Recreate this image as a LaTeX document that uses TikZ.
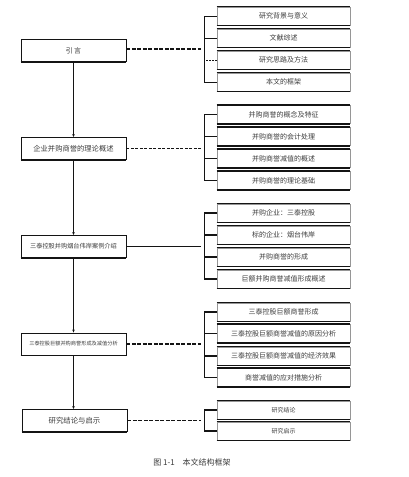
\documentclass[tikz,border=0pt]{standalone}
\usepackage{fontspec}
\newfontfamily\cjk{Noto Sans CJK SC}
\usepackage{xcolor}
\definecolor{lineblack}{RGB}{20,20,20}
\definecolor{sidegray}{RGB}{150,150,150}
\definecolor{textgray}{RGB}{60,60,60}
\usetikzlibrary{arrows.meta, positioning}

\tikzset{
  mainbox/.style={draw=lineblack, line width=0.9pt, minimum width=105pt, minimum height=22pt,
                  inner sep=1pt, text=textgray, font=\cjk\fontsize{7}{8}\selectfont},
  subbox/.style={draw=sidegray, line width=0.8pt, minimum width=133pt, minimum height=18pt,
                 inner sep=1pt, text=textgray, font=\cjk\fontsize{7}{8}\selectfont},
  thickedge/.style={lineblack, line width=1.6pt},
  link/.style={lineblack, line width=0.5pt},
  tick/.style={lineblack, line width=1.4pt},
  flow/.style={-{Stealth[length=3pt,width=2.5pt]}, lineblack, line width=0.5pt},
  heavydash/.style={lineblack, line width=1.6pt, dash pattern=on 4pt off 1.5pt},
  lightdash/.style={lineblack, line width=0.5pt, dash pattern=on 3pt off 1.5pt},
}

\begin{document}
\begin{tikzpicture}[x=1pt, y=-1pt]
  \useasboundingbox (0,0) rectangle (409,477);

  % Main chapters
  \node[mainbox] (m1) at (73.5,50.5) {引\,言};
  \node[mainbox, font=\cjk\fontsize{7.3}{8}\selectfont] (m2) at (73.5,148.5) {企业并购商誉的理论概述};
  \node[mainbox, font=\cjk\fontsize{6.2}{7}\selectfont] (m3) at (73.5,246.5) {三泰控股并购烟台伟岸案例介绍};
  \node[mainbox, font=\cjk\fontsize{5.2}{6}\selectfont] (m4) at (73.5,344) {三泰控股巨额并购商誉形成及减值分析};
  \node[mainbox, font=\cjk\fontsize{7.4}{8}\selectfont] (m5) at (74.5,420.5) {研究结论与启示};
  \foreach \n in {m1,m2,m3,m4,m5}
    \draw[thickedge] (\n.south west) -- (\n.south east);

  % Flow between chapters
  \draw[flow] (m1.south) -- (m2.north);
  \draw[flow] (m2.south) -- (m3.north);
  \draw[flow] (m3.south) -- (m4.north);
  \draw[flow] (m4.south) -- (m4.south |- m5.north);

  % --- Group 1 ---
  \node[subbox] (s11) at (283.5,16) {研究背景与意义};
  \node[subbox] (s12) at (283.5,38) {文献综述};
  \node[subbox] (s13) at (283.5,60) {研究思路及方法};
  \node[subbox] (s14) at (283.5,82) {本文的框架};
  \coordinate (k1) at (204,49);
  \coordinate (j1) at (201,49);
  \draw[heavydash] (m1.east |- j1) -- (j1);
  \draw[link] (s11.west) -- (s11.west -| k1) -- (s14.west -| k1) -- (s14.west);
  \draw[link] (s12.west) -- (s12.west -| k1);
  \draw[link, dash pattern=on 1.5pt off 1.5pt] (s13.west) -- (s13.west -| k1);

  % --- Group 2 ---
  \node[subbox] (s21) at (283.5,114.5) {并购商誉的概念及特征};
  \node[subbox] (s22) at (283.5,136.5) {并购商誉的会计处理};
  \node[subbox] (s23) at (283.5,158.5) {并购商誉减值的概述};
  \node[subbox] (s24) at (283.5,180.5) {并购商誉的理论基础};
  \coordinate (k2) at (204,148.5);
  \coordinate (j2) at (201,148.5);
  \draw[lightdash] (m2.east) -- (j2);
  \draw[link] (s21.west -| k2) -- (s24.west -| k2);
  \foreach \n in {s21,s22,s23,s24}
    \draw[tick] (\n.west) -- (\n.west -| k2);

  % --- Group 3 ---
  \node[subbox] (s31) at (283.5,213) {并购企业：三泰控股};
  \node[subbox] (s32) at (283.5,235) {标的企业：烟台伟岸};
  \node[subbox] (s33) at (283.5,257) {并购商誉的形成};
  \node[subbox] (s34) at (283.5,279) {巨额并购商誉减值形成概述};
  \coordinate (k3) at (204,246.5);
  \coordinate (j3) at (201,246.5);
  \draw[link] (m3.east) -- (j3);
  \draw[link] (s31.west -| k3) -- (s34.west -| k3);
  \foreach \n in {s31,s32,s33,s34}
    \draw[tick] (\n.west) -- (\n.west -| k3);

  % --- Group 4 ---
  \node[subbox] (s41) at (283.5,312) {三泰控股巨额商誉形成};
  \node[subbox] (s42) at (283.5,333.5) {三泰控股巨额商誉减值的原因分析};
  \node[subbox] (s43) at (283.5,356) {三泰控股巨额商誉减值的经济效果};
  \node[subbox] (s44) at (283.5,377.5) {商誉减值的应对措施分析};
  \coordinate (k4) at (204,344);
  \coordinate (j4) at (201,344);
  \draw[heavydash] (m4.east) -- (j4);
  \draw[link] (s41.west -| k4) -- (s44.west -| k4);
  \foreach \n in {s41,s42,s43}
    \draw[tick] (\n.west) -- (\n.west -| k4);
  \draw[link] (s44.west) -- (s44.west -| k4);

  % --- Group 5 ---
  \node[subbox, font=\cjk\fontsize{6}{7}\selectfont] (s51) at (283.5,410) {研究结论};
  \node[subbox, font=\cjk\fontsize{6}{7}\selectfont] (s52) at (283.5,431) {研究启示};
  \coordinate (k5) at (204,420.5);
  \coordinate (j5) at (201,420.5);
  \draw[heavydash] (m5.east) -- (j5);
  \draw[link] (s51.west -| k5) -- (s52.west -| k5);
  \draw[tick] (s51.west) -- (s51.west -| k5);
  \draw[tick] (s52.west) -- (s52.west -| k5);

  % Thick top and bottom edges of the sub boxes
  \foreach \n in {s11,s12,s13,s14,s21,s22,s23,s24,s31,s32,s33,s34,s41,s42,s43,s44,s51,s52}{
    \draw[thickedge] (\n.north west) -- (\n.north east);
    \draw[thickedge] (\n.south west) -- (\n.south east);
  }

  % Caption
  \node[text=textgray, font=\cjk\fontsize{8}{9}\selectfont] (cap) at (192,462) {图 1-1\quad 本文结构框架};
\end{tikzpicture}
\end{document}
